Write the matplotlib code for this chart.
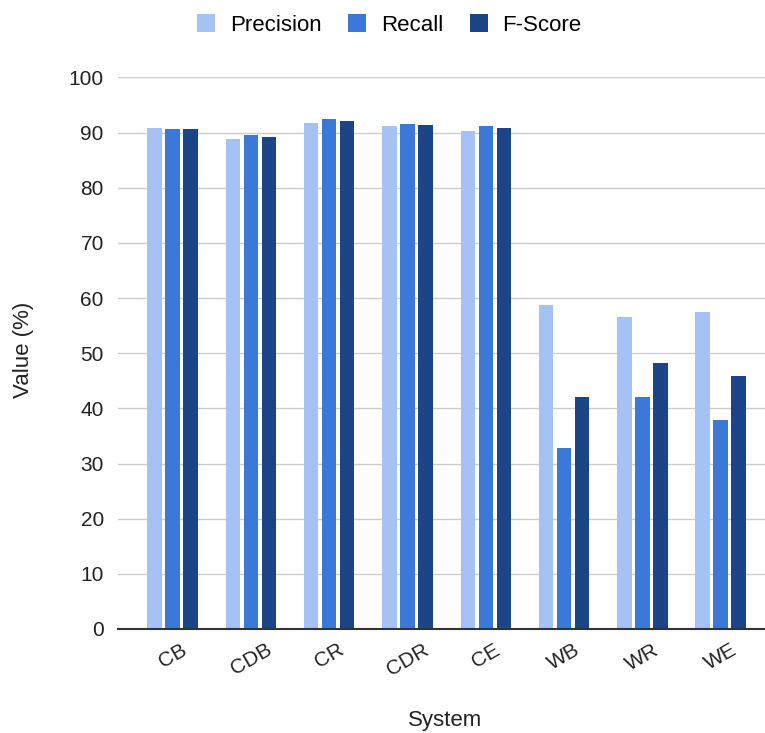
import numpy as np
import matplotlib
matplotlib.use("Agg")
import matplotlib.pyplot as plt
from matplotlib.patches import Patch

plt.rcParams['font.family'] = ['Liberation Sans', 'DejaVu Sans']

systems = ['CB', 'CDB', 'CR', 'CDR', 'CE', 'WB', 'WR', 'WE']
precision = [90.9, 88.8, 91.8, 91.2, 90.3, 58.7, 56.6, 57.5]
recall = [90.6, 89.6, 92.4, 91.5, 91.2, 32.9, 42.0, 37.9]
fscore = [90.6, 89.2, 92.1, 91.3, 90.9, 42.0, 48.2, 45.9]
series_names = ['Precision', 'Recall', 'F-Score']
colors = ['#a4c2f4', '#3c78d8', '#1c4587']
yticks = [0, 10, 20, 30, 40, 50, 60, 70, 80, 90, 100]

fig = plt.figure(figsize=(7.65, 7.33), dpi=100)
ax = fig.add_axes([0.1539, 0.1419, 0.8461, 0.7525])

# three bars per system, side by side
x = np.arange(len(systems))
bw = 0.186
step = 0.23
for i, (vals, col) in enumerate(zip([precision, recall, fscore], colors)):
    ax.bar(x + (i - 1) * step, vals, width=bw, color=col, zorder=3)

ax.set_xlim(-0.70, 7.565)
ax.set_ylim(0, 100)
ax.set_yticks(yticks)
ax.set_yticklabels([str(t) for t in yticks], fontsize=15, color='#222222')
ax.set_xticks(x)
ax.set_xticklabels(systems, fontsize=15, color='#222222', rotation=30,
                   ha='center')
ax.tick_params(axis='both', length=0)
ax.tick_params(axis='y', pad=10)
ax.tick_params(axis='x', pad=8)

ax.grid(axis='y', color='#cccccc', linewidth=1, zorder=0)
for s in ['top', 'right', 'left']:
    ax.spines[s].set_visible(False)
ax.spines['bottom'].set_color('#333333')
ax.spines['bottom'].set_linewidth(1.5)
ax.spines['bottom'].set_zorder(4)

fig.text(0.582, 0.017, 'System', fontsize=16, ha='center', va='center',
         color='#222222')
fig.text(0.031, 0.5225, 'Value (%)', fontsize=16, ha='center', va='center',
         rotation=90, color='#222222')

handles = [Patch(facecolor=c, edgecolor='none') for c in colors]
fig.legend(handles, series_names, loc='center', bbox_to_anchor=(0.509, 0.966),
           ncol=3, frameon=False, fontsize=16, handlelength=0.82,
           handleheight=0.82, handletextpad=0.65, columnspacing=1.2)

fig.savefig('out.png', dpi=100)
